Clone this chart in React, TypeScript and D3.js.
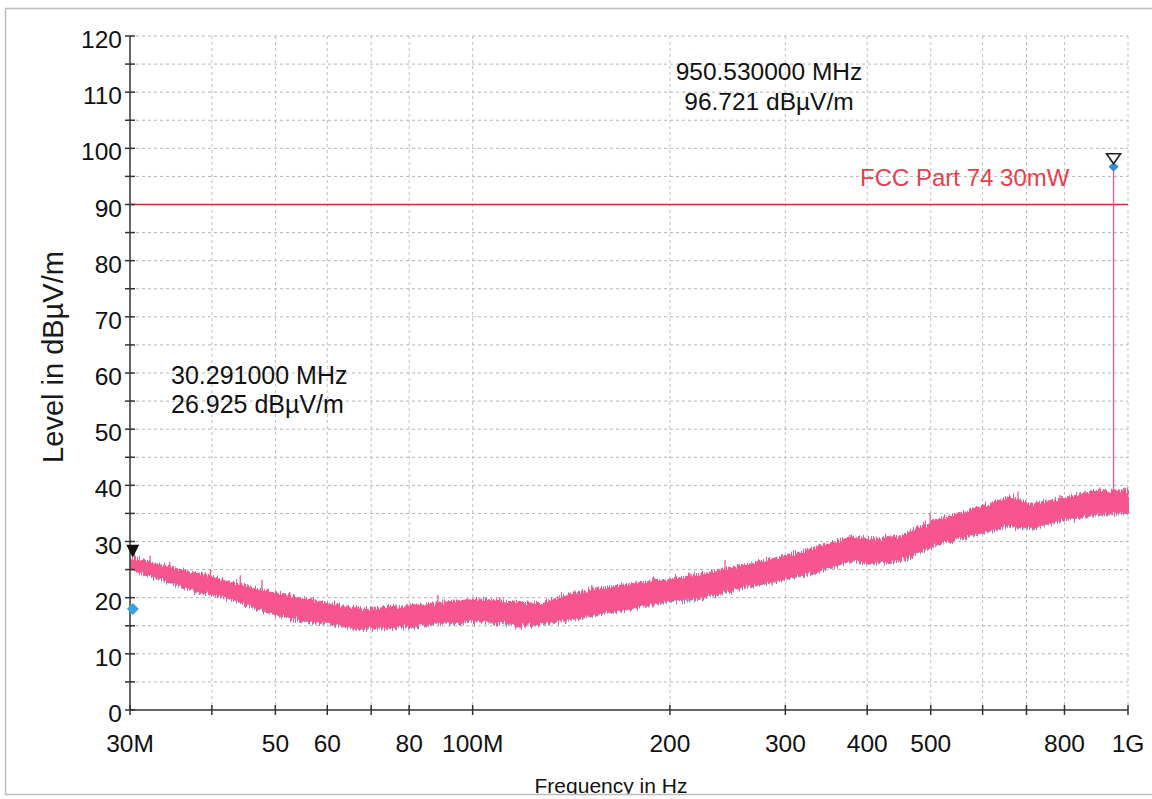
import React from "react";
import * as d3 from "d3";

// ---- data ----
const traceFreqs = [30, 33.3, 37, 42.6, 49.1, 54.5, 60.6, 67.3, 77.5, 89.2, 102.6, 118, 126.7, 145.8, 173.8, 200, 222, 256, 294.5, 339, 376.6, 404, 448.8, 516.6, 574, 661, 708, 787, 875, 1000];
const traceUpper = [27, 25.8, 24.4, 22.6, 20.9, 19.8, 18.8, 17.8, 18.2, 19, 19.6, 19, 18.8, 20.9, 22.3, 23.2, 24, 25.5, 27, 29, 30.6, 30.3, 30.8, 33.9, 35.3, 37.8, 36.5, 37.4, 38.7, 38.9];
const traceLower = [25.3, 23.5, 21.7, 20, 17.3, 16.2, 15.5, 14.6, 14.8, 15.5, 16, 15.2, 15.5, 16.6, 18.2, 19.6, 20, 21.9, 23.2, 25, 26.7, 26.2, 26.7, 29.8, 31.2, 33, 32.4, 33.9, 34.8, 35.3];

const spikeFreqs = [32.2, 34.5, 39.8, 44.2, 47.7, 52.6, 57.5, 80.3, 88.5, 110, 152, 214.6, 242.7, 291, 376.6, 499, 679.6, 787.5, 906, 950.53, 989];
const spikeLevels = [27.5, 26.4, 25.1, 24, 23.2, 20.9, 19.6, 19, 20.5, 20.1, 22.3, 24.4, 26.7, 27.3, 31.2, 35.1, 38.9, 38.3, 39.6, 96.721, 39.6];

const xTicks = [30, 40, 50, 60, 70, 80, 100, 200, 300, 400, 500, 600, 700, 800, 1000];
const xTickLabels = ["30M", "", "50", "60", "", "80", "100M", "200", "300", "400", "500", "", "", "800", "1G"];
const yTicks = [0, 10, 20, 30, 40, 50, 60, 70, 80, 90, 100, 110, 120];
const yGrid = [5, 10, 15, 20, 25, 30, 35, 40, 45, 50, 55, 60, 65, 70, 75, 80, 85, 90, 95, 100, 105, 110, 115, 120];

const limitLevel = 90;
const limitLabel = "FCC Part 74 30mW";

const peakMarker = { f: 950.53, level: 96.721, lines: ["950.530000 MHz", "96.721 dBµV/m"] };
const lowMarker = { f: 30.291, level: 26.925, lines: ["30.291000 MHz", "26.925 dBµV/m"] };
const blueLowMarker = { f: 30.2, level: 18 };

const FONT = "'Liberation Sans', Arial, sans-serif";
const PINK = "#f7548e";

export default function App() {
  const x = d3.scaleLog().domain([30, 1000]).range([130, 1128]);
  const y = d3.scaleLinear().domain([0, 120]).range([710, 36]);

  const band = d3
    .area<number>()
    .x((_, i) => x(traceFreqs[i]))
    .y0((_, i) => y(traceLower[i]))
    .y1((_, i) => y(traceUpper[i]));
  const bandPath = band(traceFreqs) || "";
  const lowerLine = d3
    .line<number>()
    .x((_, i) => x(traceFreqs[i]))
    .y((_, i) => y(traceLower[i]))(traceFreqs) || "";

  const bis = d3.bisector((d: number) => d).left;
  const baseFor = (f: number) => {
    const i = Math.min(traceFreqs.length - 1, Math.max(0, bis(traceFreqs, f)));
    return traceUpper[i] - 1.5;
  };

  const tri = (cx: number, tipY: number, w: number, h: number) =>
    `M${cx - w / 2},${tipY - h} L${cx + w / 2},${tipY - h} L${cx},${tipY} Z`;
  const diamond = (cx: number, cy: number, r: number) =>
    `M${cx},${cy - r} L${cx + r},${cy} L${cx},${cy + r} L${cx - r},${cy} Z`;

  const px = x(peakMarker.f);
  const lx = x(lowMarker.f);

  return (
    <svg
      width={1152}
      height={799}
      style={{ position: "absolute", left: 0, top: 0, background: "#fff" }}
      fontFamily={FONT}
    >
      <defs>
        <clipPath id="frame">
          <rect x={5} y={8} width={1160} height={787} />
        </clipPath>
        <clipPath id="plotclip">
          <rect x={130} y={30} width={999} height={680} />
        </clipPath>
        <filter id="jag" x="-2%" y="-30%" width="104%" height="160%">
          <feTurbulence type="fractalNoise" baseFrequency="0.9 0.06" numOctaves={2} seed={4} result="t" />
          <feDisplacementMap in="SourceGraphic" in2="t" scale={11} xChannelSelector="R" yChannelSelector="G" />
        </filter>
      </defs>
      <rect x={0} y={0} width={1152} height={799} fill="#fff" />
      <g clipPath="url(#frame)">
        {/* grid */}
        {yGrid.map((v) => (
          <line key={"hg" + v} x1={130} x2={1128} y1={y(v)} y2={y(v)} stroke="#b5b5b5" strokeWidth={1} strokeDasharray="3,3" />
        ))}
        {xTicks.slice(1).map((v) => (
          <line key={"vg" + v} x1={x(v)} x2={x(v)} y1={y(120)} y2={y(0)} stroke="#c0c0c0" strokeWidth={1} strokeDasharray="3,3" />
        ))}

        {/* limit line */}
        <line x1={130} x2={1128} y1={y(limitLevel)} y2={y(limitLevel)} stroke="#d42a30" strokeWidth={1.6} />
        <text x={860} y={186} fontSize={24} fill="#e8404a">{limitLabel}</text>

        {/* trace */}
        <g clipPath="url(#plotclip)">
          <g filter="url(#jag)">
            <path d={lowerLine} fill="none" stroke="#62c8ea" strokeWidth={1.5} transform="translate(0,1.5)" />
            <path d={bandPath} fill={PINK} stroke={PINK} strokeWidth={3} />
          </g>
          {spikeFreqs.map((f, i) => (
            <line key={"sp" + i} x1={x(f)} x2={x(f)} y1={y(spikeLevels[i])} y2={y(baseFor(f))} stroke={PINK} strokeWidth={1.3} />
          ))}
        </g>

        {/* axes */}
        <line x1={130} x2={130} y1={y(120)} y2={y(0)} stroke="#333" strokeWidth={1.5} />
        <line x1={130} x2={1128} y1={y(0)} y2={y(0)} stroke="#333" strokeWidth={1.5} />
        {yGrid.concat([0]).map((v) => (
          <line key={"yt" + v} x1={125} x2={135} y1={y(v)} y2={y(v)} stroke="#333" strokeWidth={1.5} />
        ))}
        {yTicks.map((v) => (
          <text key={"yl" + v} x={122} y={y(v) + 12} fontSize={24.5} textAnchor="end" fill="#111">{v}</text>
        ))}
        {xTicks.map((v) => (
          <line key={"xt" + v} x1={x(v)} x2={x(v)} y1={y(0) - 5} y2={y(0) + 5} stroke="#333" strokeWidth={1.5} />
        ))}
        {xTicks.map((v, i) =>
          xTickLabels[i] ? (
            <text key={"xl" + v} x={x(v)} y={752} fontSize={24.5} textAnchor="middle" fill="#111">{xTickLabels[i]}</text>
          ) : null
        )}

        {/* axis titles */}
        <text transform="translate(63,357) rotate(-90)" fontSize={29} textAnchor="middle" fill="#1a1a1a">Level in dBµV/m</text>
        <text x={611} y={793} fontSize={21} textAnchor="middle" fill="#111">Frequency in Hz</text>

        {/* markers */}
        <path d={diamond(px, y(peakMarker.level), 5)} fill="#2f8fd8" />
        <path d={tri(px, y(peakMarker.level) - 3, 14, 10)} fill="none" stroke="#222" strokeWidth={1.6} />
        <path d={tri(lx, y(lowMarker.level) - 1, 13, 13)} fill="#111" />
        <path d={diamond(x(blueLowMarker.f) + 1, y(blueLowMarker.level), 6)} fill="#3aa0e0" />

        {/* annotations */}
        {peakMarker.lines.map((t, i) => (
          <text key={"pm" + i} x={769} y={80 + i * 30} fontSize={24.5} textAnchor="middle" fill="#111">{t}</text>
        ))}
        {lowMarker.lines.map((t, i) => (
          <text key={"lm" + i} x={171} y={384 + i * 29} fontSize={25} fill="#111">{t}</text>
        ))}
      </g>
      <rect x={5.5} y={8.5} width={1160} height={786} fill="none" stroke="#bdbdbd" strokeWidth={1.5} />
    </svg>
  );
}
